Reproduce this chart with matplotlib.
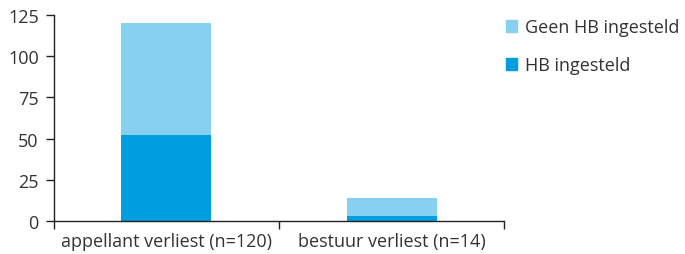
import matplotlib
matplotlib.use("Agg")
import matplotlib.pyplot as plt
from matplotlib.patches import Patch

plt.rcParams['font.family'] = ['Open Sans', 'DejaVu Sans']

categories = ['appellant verliest (n=120)', 'bestuur verliest (n=14)']
hb_ingesteld = [52, 3]
geen_hb = [68, 11]
series_labels = ['Geen HB ingesteld', 'HB ingesteld']

light = '#87d0f0'
dark = '#009ee0'
text_col = '#333333'

fig = plt.figure(figsize=(6.85, 2.55), dpi=100)
ax = fig.add_axes([54/685, 1 - 222/255, 450/685, 206/255])

x = [0.5, 1.5]
ax.bar(x, hb_ingesteld, width=0.4, color=dark, linewidth=0)
ax.bar(x, geen_hb, width=0.4, bottom=hb_ingesteld, color=light, linewidth=0)

ax.set_xlim(0, 2)
ax.set_ylim(0, 125)
ax.set_yticks([0, 25, 50, 75, 100, 125])
ax.set_xticks([0, 1, 2])
ax.set_xticklabels([])
ax.set_xticks(x, minor=True)
ax.set_xticklabels(categories, minor=True)
ax.tick_params(axis='x', which='minor', length=0, pad=8)
ax.tick_params(axis='x', which='major', length=6, width=1, color='#222222')
ax.tick_params(axis='y', length=6, width=1, color='#222222', pad=5)
for lab in ax.get_xticklabels(minor=True) + ax.get_yticklabels():
    lab.set_color(text_col)
    lab.set_fontsize(13)
for s in ['top', 'right']:
    ax.spines[s].set_visible(False)
for s in ['left', 'bottom']:
    ax.spines[s].set_color('#222222')
    ax.spines[s].set_linewidth(1)

handles = [Patch(color=light), Patch(color=dark)]
fig.legend(handles, series_labels, loc='upper left', bbox_to_anchor=(501/685, 1 - 14/255),
           frameon=False, fontsize=13, handlelength=0.6, handleheight=0.6,
           handletextpad=0.45, labelspacing=1.1, labelcolor=text_col,
           borderaxespad=0, borderpad=0.3)

fig.savefig('out.png', dpi=100)
